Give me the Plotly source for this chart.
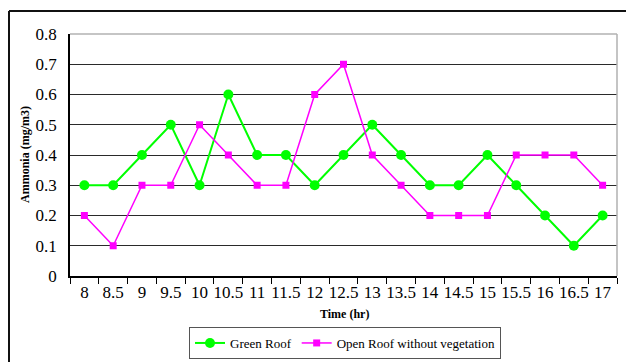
import plotly.graph_objects as go

time_labels = ["8", "8.5", "9", "9.5", "10", "10.5", "11", "11.5", "12", "12.5",
               "13", "13.5", "14", "14.5", "15", "15.5", "16", "16.5", "17"]
green_roof = [0.3, 0.3, 0.4, 0.5, 0.3, 0.6, 0.4, 0.4, 0.3, 0.4,
              0.5, 0.4, 0.3, 0.3, 0.4, 0.3, 0.2, 0.1, 0.2]
open_roof = [0.2, 0.1, 0.3, 0.3, 0.5, 0.4, 0.3, 0.3, 0.6, 0.7,
             0.4, 0.3, 0.2, 0.2, 0.2, 0.4, 0.4, 0.4, 0.3]
y_ticks = [0, 0.1, 0.2, 0.3, 0.4, 0.5, 0.6, 0.7, 0.8]

FONT = "Liberation Serif"

fig = go.Figure()
fig.add_trace(go.Scatter(
    x=time_labels, y=green_roof, name="Green Roof", mode="lines+markers",
    line=dict(color="#00FF00", width=2),
    marker=dict(symbol="circle", size=10, color="#00FF00"),
))
fig.add_trace(go.Scatter(
    x=time_labels, y=open_roof, name="Open Roof without vegetation", mode="lines+markers",
    line=dict(color="#FF00FF", width=1.5),
    marker=dict(symbol="square", size=7, color="#FF00FF"),
))

# plot area: x 70..617 px, y 34..276 px
W, H = 626, 362
L, R, T, B = 70, 617, 34, 276
pw, ph = R - L, B - T

def px(x):
    return (x - L) / pw

def py(y):
    return (B - y) / ph

shapes = [
    # gray top and right edge of the plot area
    dict(type="line", xref="paper", yref="paper", x0=0, x1=1, y0=1, y1=1,
         line=dict(color="#8c8c8c", width=1.2)),
    dict(type="line", xref="paper", yref="paper", x0=1, x1=1, y0=0, y1=1,
         line=dict(color="#b0b0b0", width=1.5)),
    # outer chart frame
    dict(type="line", xref="paper", yref="paper", x0=px(9), x1=px(640), y0=py(11), y1=py(11),
         line=dict(color="#111111", width=2)),
    dict(type="line", xref="paper", yref="paper", x0=px(9), x1=px(9), y0=py(11), y1=py(380),
         line=dict(color="#111111", width=2)),
]

fig.update_layout(
    width=W, height=H,
    margin=dict(l=L, r=W - R, t=T, b=H - B, autoexpand=False),
    paper_bgcolor="white", plot_bgcolor="white",
    font=dict(family=FONT, color="black"),
    showlegend=True,
    legend=dict(
        orientation="h", x=px(345), y=py(343), xanchor="center", yanchor="middle",
        font=dict(family=FONT, size=13, color="black"),
        bordercolor="#555555", borderwidth=1, bgcolor="white",
        itemwidth=30, tracegroupgap=0,
    ),
    shapes=shapes,
    annotations=[
        dict(text="<b>Time (hr)</b>", xref="paper", yref="paper",
             x=px(344), y=py(314), xanchor="center", yanchor="middle",
             showarrow=False, font=dict(family=FONT, size=12)),
        dict(text="<b>Ammonia (mg/m3)</b>", xref="paper", yref="paper",
             x=px(25), y=py(155), xanchor="center", yanchor="middle", textangle=-90,
             showarrow=False, font=dict(family=FONT, size=12)),
    ],
)

fig.update_xaxes(
    type="category", tickson="boundaries", ticks="outside", ticklen=6,
    tickcolor="black", tickwidth=1, tickangle=0, automargin=False,
    showline=True, linecolor="black", linewidth=1.5,
    showgrid=False, zeroline=False,
    tickfont=dict(family=FONT, size=17, color="black"),
    range=[-0.5, len(time_labels) - 0.5],
)
fig.update_yaxes(
    range=[0, 0.8], tickvals=y_ticks, ticktext=[f"{v:g}" for v in y_ticks],
    showline=True, linecolor="black", linewidth=1.5, automargin=False,
    showgrid=True, gridcolor="#2a2a2a", gridwidth=1,
    zeroline=False, ticks="", ticklabelstandoff=8,
    tickfont=dict(family=FONT, size=17, color="black"),
)

fig.write_html("out.html")
